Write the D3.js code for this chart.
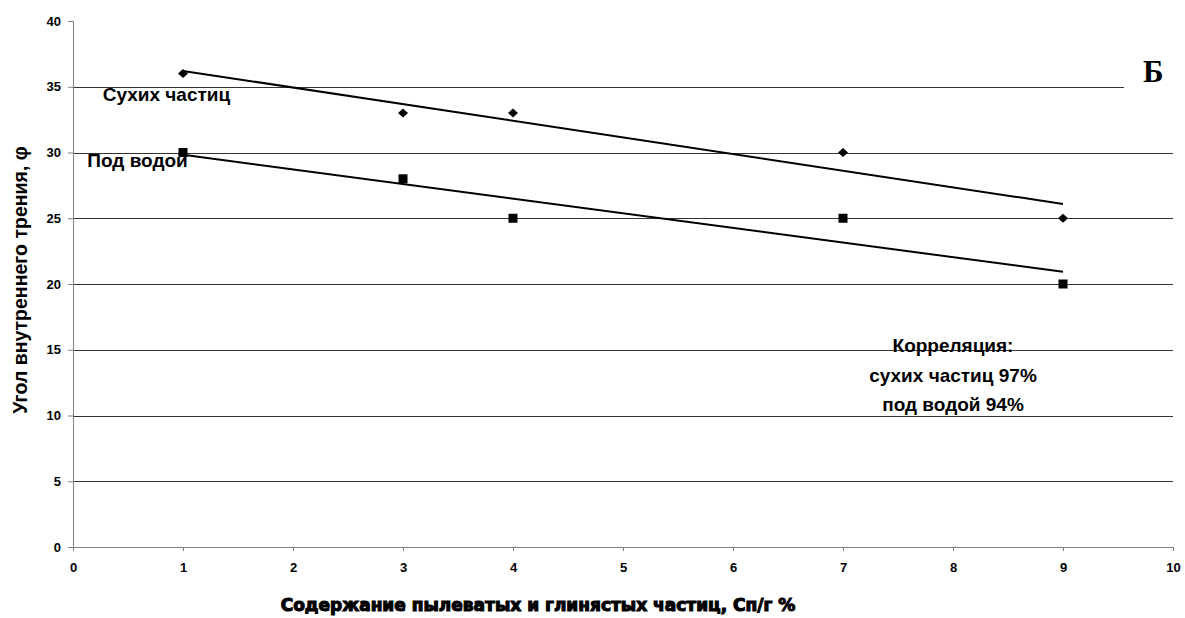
<!DOCTYPE html>
<meta charset="utf-8">
<style>
body { margin: 0; background: #fff; }
.axis text { font: bold 13px "Liberation Sans", Arial, sans-serif; fill: #000; }
.axis path, .axis line { stroke: #808080; }
.grid line { stroke: #333; shape-rendering: crispEdges; }
.note { font: bold 19px "Liberation Sans", Arial, sans-serif; fill: #000; }
</style>
<svg width="1185" height="618" id="chart"></svg>
<script src="https://cdn.jsdelivr.net/npm/d3@7/dist/d3.min.js"></script>
<script>

var xValues = [1, 3, 4, 7, 9];
var dryValues = [36, 33, 33, 30, 25];
var wetValues = [30, 28, 25, 25, 20];
var xTicks = [0, 1, 2, 3, 4, 5, 6, 7, 8, 9, 10];
var yTicks = [0, 5, 10, 15, 20, 25, 30, 35, 40];
var corrLines = ["Корреляция:", "сухих частиц 97%", "под водой 94%"];

var svg = d3.select("svg#chart"),
    margin = {top: 21, right: 12, bottom: 71, left: 73},
    width = svg.attr("width") - margin.left - margin.right,
    height = svg.attr("height") - margin.top - margin.bottom,
    g = svg.append("g").attr("transform", "translate(" + margin.left + "," + margin.top + ")");

var x = d3.scaleLinear().domain([0, 10]).range([0, width]),
    y = d3.scaleLinear().domain([0, 40]).range([height, 0]);

// least squares trend line
function fit(xs, ys) {
  var mx = d3.mean(xs), my = d3.mean(ys), sxy = 0, sxx = 0;
  xs.forEach(function(v, i) { sxy += (v - mx) * (ys[i] - my); sxx += (v - mx) * (v - mx); });
  var b = sxy / sxx, a = my - b * mx;
  var x0 = d3.min(xs), x1 = d3.max(xs);
  return [[x0, a + b * x0], [x1, a + b * x1]];
}

// gridlines (the top one at 35 is cut short by the "Б" label)
g.append("g")
    .attr("class", "grid")
  .selectAll("line")
  .data(yTicks.slice(1, -1))
  .enter().append("line")
    .attr("x1", 0)
    .attr("x2", function(d) { return d === 35 ? x(9.55) : width; })
    .attr("y1", function(d) { return Math.round(y(d)) + 0.5; })
    .attr("y2", function(d) { return Math.round(y(d)) + 0.5; });

g.append("g")
    .attr("class", "axis axis--x")
    .attr("transform", "translate(0," + height + ")")
    .call(d3.axisBottom(x).tickValues(xTicks).tickSize(4).tickPadding(12).tickFormat(d3.format("d")));

g.append("g")
    .attr("class", "axis axis--y")
    .call(d3.axisLeft(y).tickValues(yTicks).tickSize(5).tickPadding(7).tickFormat(d3.format("d")));

g.selectAll(".axis .domain").attr("stroke", "#808080");

var line = d3.line()
    .x(function(d) { return x(d[0]); })
    .y(function(d) { return y(d[1]); });

[dryValues, wetValues].forEach(function(vals) {
  g.append("path")
      .attr("d", line(fit(xValues, vals)))
      .attr("fill", "none")
      .attr("stroke", "#000")
      .attr("stroke-width", 2);
});

g.selectAll(".dry")
  .data(xValues)
  .enter().append("path")
    .attr("class", "dry")
    .attr("transform", function(d, i) { return "translate(" + x(d) + "," + y(dryValues[i]) + ")"; })
    .attr("d", "M-5,0L0,-4.5L5,0L0,4.5Z")
    .attr("fill", "#000");

g.selectAll(".wet")
  .data(xValues)
  .enter().append("rect")
    .attr("class", "wet")
    .attr("x", function(d) { return x(d) - 4.5; })
    .attr("y", function(d, i) { return y(wetValues[i]) - 4.5; })
    .attr("width", 9)
    .attr("height", 9)
    .attr("fill", "#000");

// series labels
g.append("text").attr("class", "note")
    .attr("x", x(0.27)).attr("y", y(33.9))
    .text("Сухих частиц");
g.append("text").attr("class", "note")
    .attr("x", x(0.13)).attr("y", y(28.9))
    .text("Под водой");

g.append("text")
    .attr("class", "note")
    .attr("text-anchor", "middle")
    .selectAll("tspan")
    .data(corrLines)
  .enter().append("tspan")
    .attr("x", x(8.0))
    .attr("y", function(d, i) { return y(14.8) + i * 29.5; })
    .text(function(d) { return d; });

svg.append("text")
    .attr("x", 1143).attr("y", 82)
    .style("font", "bold 31px 'Liberation Serif', 'Times New Roman', serif")
    .text("Б");

svg.append("text")
    .attr("transform", "translate(27," + (margin.top + y(20.3)) + ")rotate(-90)")
    .attr("text-anchor", "middle")
    .style("font", "bold 19.5px 'Liberation Sans', Arial, sans-serif")
    .text("Угол внутреннего трения, φ");

svg.append("text")
    .attr("x", 538).attr("y", 611)
    .attr("text-anchor", "middle")
    .attr("stroke", "#000").attr("stroke-width", 1.1)
    .style("font", "bold 17px 'DejaVu Sans', sans-serif")
    .text("Содержание пылеватых и глинястых частиц, Сп/г %");

</script>
